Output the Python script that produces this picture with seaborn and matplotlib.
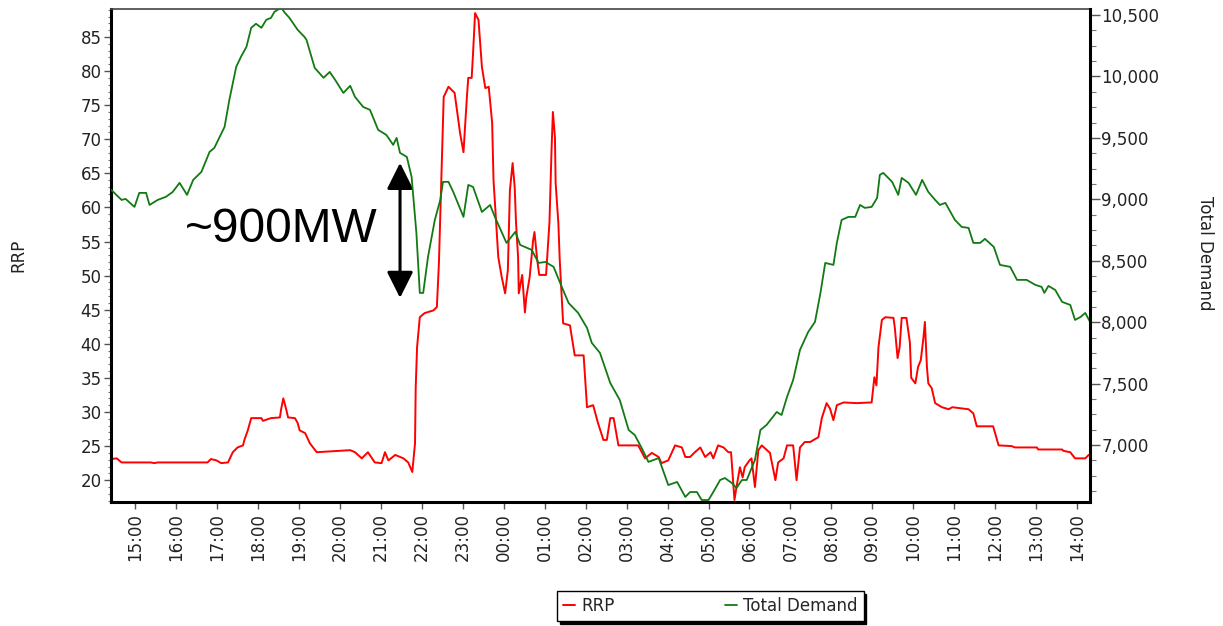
import pandas as pd
import seaborn as sns
import matplotlib.pyplot as plt
import matplotlib.dates as mdates
from matplotlib.ticker import MultipleLocator, StrMethodFormatter

#######################################################################
# Data (time of day, value)
#######################################################################

rrp_times = [
    "14:25", "14:33", "14:40", "15:23", "15:28", "15:33", "16:46", "16:51",
    "16:59", "17:06", "17:16", "17:23", "17:30", "17:38", "17:40", "17:45",
    "17:50", "18:05", "18:07", "18:19", "18:32", "18:34", "18:37", "18:41",
    "18:44", "18:54", "18:58", "19:01", "19:09", "19:16", "19:26", "20:15",
    "20:22", "20:32", "20:41", "20:51", "21:01", "21:06", "21:11", "21:21",
    "21:33", "21:40", "21:46", "21:50", "21:51", "21:53", "21:57", "22:04",
    "22:17", "22:22", "22:25", "22:30", "22:32", "22:39", "22:48", "22:56",
    "23:01", "23:06", "23:08", "23:13", "23:15", "23:18", "23:23", "23:28",
    "23:33", "23:38", "23:43", "23:45", "23:52", "23:57", "00:02", "00:06",
    "00:09", "00:13", "00:16", "00:18", "00:21", "00:22", "00:25", "00:27",
    "00:31", "00:33", "00:38", "00:43", "00:45", "00:49", "00:52", "01:02",
    "01:07", "01:10", "01:12", "01:15", "01:16", "01:20", "01:22", "01:27",
    "01:37", "01:44", "01:57", "02:02", "02:11", "02:18", "02:26", "02:31",
    "02:36", "02:41", "02:48", "03:17", "03:27", "03:37", "03:47", "03:51",
    "04:01", "04:11", "04:21", "04:26", "04:33", "04:40", "04:48", "04:55",
    "05:03", "05:07", "05:14", "05:22", "05:29", "05:33", "05:36", "05:38",
    "05:41", "05:46", "05:50", "05:53", "05:58", "06:00", "06:03", "06:08",
    "06:13", "06:18", "06:30", "06:38", "06:42", "06:50", "06:55", "07:04",
    "07:09", "07:14", "07:21", "07:29", "07:34", "07:41", "07:46", "07:53",
    "07:58", "08:03", "08:08", "08:18", "08:37", "08:59", "09:03", "09:06",
    "09:09", "09:14", "09:19", "09:31", "09:33", "09:37", "09:40", "09:43",
    "09:50", "09:55", "09:57", "10:03", "10:07", "10:11", "10:15", "10:17",
    "10:20", "10:22", "10:27", "10:32", "10:42", "10:52", "10:57", "11:21",
    "11:28", "11:33", "11:57", "12:05", "12:24", "12:29", "13:01", "13:03",
    "13:38", "13:40", "13:50", "13:57", "14:12", "14:17", "14:19",
]
rrp_values = [
    23.1, 23.2, 22.6, 22.6, 22.5, 22.6, 22.6, 23.1,
    22.9, 22.5, 22.6, 24.1, 24.8, 25.1, 25.9, 27.3,
    29.1, 29.1, 28.7, 29.1, 29.2, 30.5, 32.0, 30.5,
    29.2, 29.1, 28.4, 27.3, 26.9, 25.4, 24.1, 24.4,
    24.1, 23.2, 24.1, 22.6, 22.5, 24.1, 22.9, 23.7,
    23.2, 22.6, 21.2, 25.4, 33.6, 39.5, 43.9, 44.5,
    44.9, 45.4, 51.8, 69.4, 76.2, 77.7, 76.8, 70.9,
    68.1, 76.2, 79.0, 79.0, 82.6, 88.5, 87.5, 80.6,
    77.5, 77.7, 72.4, 64.0, 52.7, 49.8, 47.4, 50.8,
    62.5, 66.5, 63.0, 57.7, 52.7, 47.4, 49.0, 50.1,
    44.6, 46.8, 49.8, 55.2, 56.4, 52.3, 50.1, 50.1,
    57.9, 68.4, 74.0, 70.3, 63.6, 57.7, 52.3, 43.0,
    42.7, 38.3, 38.3, 30.7, 31.0, 28.4, 25.9, 25.9,
    29.1, 29.1, 25.1, 25.1, 23.2, 24.0, 23.4, 22.5,
    22.9, 25.1, 24.8, 23.4, 23.4, 24.1, 24.8, 23.4,
    24.1, 23.2, 25.1, 24.8, 24.1, 24.1, 20.0, 17.1,
    19.0, 21.9, 20.4, 21.9, 22.6, 22.9, 23.2, 19.0,
    24.4, 25.1, 24.0, 20.0, 22.6, 23.2, 25.1, 25.1,
    20.0, 24.8, 25.6, 25.6, 25.9, 26.3, 29.1, 31.3,
    30.5, 28.8, 31.0, 31.4, 31.3, 31.4, 35.1, 33.9,
    39.5, 43.5, 43.9, 43.8, 42.3, 37.9, 39.5, 43.8,
    43.8, 40.2, 35.0, 34.2, 36.6, 37.6, 41.0, 43.2,
    36.6, 34.2, 33.5, 31.3, 30.7, 30.4, 30.7, 30.4,
    29.8, 27.9, 27.9, 25.1, 25.0, 24.8, 24.8, 24.5,
    24.5, 24.3, 24.1, 23.2, 23.2, 23.7, 23.7,
]

demand_times = [
    "14:25", "14:40", "14:46", "14:59", "15:06", "15:16", "15:21", "15:33",
    "15:45", "15:55", "16:05", "16:16", "16:25", "16:37", "16:49", "16:56",
    "17:11", "17:18", "17:28", "17:35", "17:43", "17:50", "17:57", "18:05",
    "18:12", "18:19", "18:24", "18:34", "18:39", "18:46", "18:58", "19:08",
    "19:11", "19:23", "19:36", "19:45", "19:53", "20:05", "20:15", "20:22",
    "20:34", "20:44", "20:56", "21:08", "21:18", "21:23", "21:28", "21:38",
    "21:45", "21:52", "21:57", "22:02", "22:09", "22:19", "22:27", "22:31",
    "22:39", "22:46", "23:01", "23:08", "23:15", "23:28", "23:40", "23:47",
    "00:04", "00:17", "00:24", "00:41", "00:51", "01:01", "01:13", "01:25",
    "01:35", "01:49", "02:02", "02:09", "02:21", "02:36", "02:50", "03:03",
    "03:12", "03:22", "03:32", "03:47", "04:01", "04:14", "04:26", "04:33",
    "04:43", "04:50", "05:00", "05:07", "05:17", "05:24", "05:34", "05:41",
    "05:49", "05:56", "06:08", "06:16", "06:25", "06:40", "06:47", "06:55",
    "07:04", "07:14", "07:26", "07:36", "07:44", "07:51", "08:03", "08:08",
    "08:15", "08:25", "08:35", "08:42", "08:49", "08:59", "09:07", "09:11",
    "09:16", "09:26", "09:29", "09:38", "09:43", "09:53", "10:04", "10:13",
    "10:22", "10:32", "10:39", "10:47", "11:01", "11:11", "11:21", "11:28",
    "11:38", "11:45", "11:58", "12:07", "12:22", "12:32", "12:46", "12:59",
    "13:08", "13:12", "13:18", "13:28", "13:38", "13:50", "13:57", "14:05",
    "14:12", "14:19",
]
demand_values = [
    9076, 8995, 9003, 8938, 9052, 9052, 8954, 8995,
    9020, 9060, 9134, 9036, 9158, 9223, 9386, 9419,
    9590, 9810, 10078, 10160, 10241, 10396, 10429, 10396,
    10461, 10477, 10526, 10560, 10520, 10477, 10380, 10322,
    10298, 10070, 9989, 10037, 9972, 9866, 9924, 9834,
    9752, 9728, 9565, 9524, 9443, 9500, 9378, 9345,
    9182, 8726, 8238, 8238, 8531, 8832, 8995, 9142,
    9142, 9060, 8857, 9117, 9101, 8897, 8954, 8857,
    8645, 8735, 8629, 8588, 8482, 8490, 8450, 8287,
    8156, 8075, 7953, 7831, 7749, 7505, 7366, 7122,
    7081, 6976, 6862, 6894, 6674, 6699, 6577, 6617,
    6617, 6552, 6552, 6617, 6715, 6731, 6691, 6650,
    6715, 6715, 6878, 7122, 7163, 7269, 7244, 7391,
    7529, 7774, 7920, 8002, 8238, 8482, 8466, 8645,
    8832, 8857, 8857, 8954, 8930, 8938, 9011, 9199,
    9215, 9158, 9142, 9036, 9174, 9134, 9036, 9158,
    9060, 8995, 8954, 8971, 8832, 8775, 8767, 8645,
    8645, 8678, 8612, 8466, 8450, 8344, 8344, 8303,
    8287, 8238, 8295, 8262, 8165, 8140, 8018, 8042,
    8075, 8002,
]

x_start = "14:25"
x_end = "14:19"


def to_datetimes(times):
    # times run over midnight, so move to the next day whenever the clock goes back
    base = pd.Timestamp("2000-01-01")
    out = []
    day = 0
    prev = None
    for t in times:
        h, m = map(int, t.split(":"))
        mins = h * 60 + m
        if prev is not None and mins < prev:
            day += 1
        prev = mins
        out.append(base + pd.Timedelta(days=day, minutes=mins))
    return out


rrp_df = pd.DataFrame({"time": to_datetimes(rrp_times), "RRP": rrp_values})
demand_df = pd.DataFrame({"time": to_datetimes(demand_times), "Total Demand": demand_values})
xlim = to_datetimes([x_start, x_end])

#######################################################################
# Plot
#######################################################################

sns.set_theme(style="ticks")
plt.rcParams["font.family"] = ["DejaVu Sans"]

fig = plt.figure(figsize=(12.23, 6.26), dpi=100)
ax = fig.add_axes([0.0910, 0.1981, 0.8003, 0.7875])
ax2 = ax.twinx()

sns.lineplot(data=rrp_df, x="time", y="RRP", ax=ax, color="#ff0000", linewidth=1.4, legend=False)
sns.lineplot(data=demand_df, x="time", y="Total Demand", ax=ax2, color="#127a12", linewidth=1.3, legend=False)

ax.set_xlim(xlim[0], xlim[1])
ax.set_ylim(16.8, 89.1)
ax2.set_ylim(6536, 10549)

# x axis: hourly ticks, vertical labels
ax.xaxis.set_major_locator(mdates.HourLocator())
ax.xaxis.set_major_formatter(mdates.DateFormatter("%H:%M"))
for lbl in ax.get_xticklabels():
    lbl.set_rotation(90)
ax.tick_params(axis="x", which="major", direction="out", length=5, width=1,
               color="#555555", labelsize=12, pad=3, labelcolor="#222222")

# left axis
ax.yaxis.set_major_locator(MultipleLocator(5))
ax.yaxis.set_minor_locator(MultipleLocator(1))
ax.tick_params(axis="y", which="major", direction="out", length=5, width=1,
               color="#555555", labelsize=12, pad=2, labelcolor="#222222")
ax.tick_params(axis="y", which="minor", direction="out", length=2, width=0.8, color="#777777")

# right axis
ax2.yaxis.set_major_locator(MultipleLocator(500))
ax2.yaxis.set_minor_locator(MultipleLocator(125))
ax2.yaxis.set_major_formatter(StrMethodFormatter("{x:,.0f}"))
ax2.tick_params(axis="y", which="major", direction="out", length=7, width=1,
                color="#555555", labelsize=12, pad=1, labelcolor="#222222")
ax2.tick_params(axis="y", which="minor", direction="out", length=4, width=0.8, color="#777777")

ax.set_xlabel("")
ax2.set_xlabel("")
ax.set_ylabel("RRP", fontsize=12, color="#222222")
ax.yaxis.set_label_coords(-0.086, 0.5)
ax2.set_ylabel("Total Demand", fontsize=12, color="#222222")
ax2.yaxis.label.set(rotation=270, va="center", ha="center", rotation_mode="anchor")
ax2.yaxis.set_label_coords(1.1175, 0.505)

# frame
ax.grid(False)
ax2.grid(False)
for side in ["left", "bottom"]:
    ax.spines[side].set_linewidth(2.2)
    ax.spines[side].set_color("black")
ax.spines["top"].set_linewidth(1.2)
ax.spines["top"].set_color("#444444")
ax.spines["right"].set_visible(False)
for side in ["left", "bottom", "top"]:
    ax2.spines[side].set_visible(False)
ax2.spines["right"].set_linewidth(2.2)
ax2.spines["right"].set_color("black")

# annotation of the demand drop
ax.text(0.0753, 0.527, "~900MW", transform=ax.transAxes, fontsize=34.5,
        family="Liberation Sans", ha="left", va="baseline", color="black")
ax.annotate("", xy=(0.295, 0.688), xytext=(0.295, 0.414), xycoords="axes fraction",
            arrowprops=dict(arrowstyle="<|-|>,head_length=0.4,head_width=0.2",
                            color="black", lw=2.2, mutation_scale=40, shrinkA=0, shrinkB=0))

# legend below the chart
handles = [ax.lines[0], ax2.lines[0]]
leg = fig.legend(handles, ["RRP", "Total Demand"], loc="center",
                 bbox_to_anchor=(0.581, 0.032), ncol=2, frameon=True, fancybox=False,
                 edgecolor="black", shadow={"color": "black", "alpha": 1},
                 handlelength=0.7, handletextpad=0.4, columnspacing=6.6,
                 fontsize=12, borderpad=0.35, borderaxespad=0)
leg.get_frame().set_linewidth(1.0)

fig.savefig("out.png", dpi=100)
